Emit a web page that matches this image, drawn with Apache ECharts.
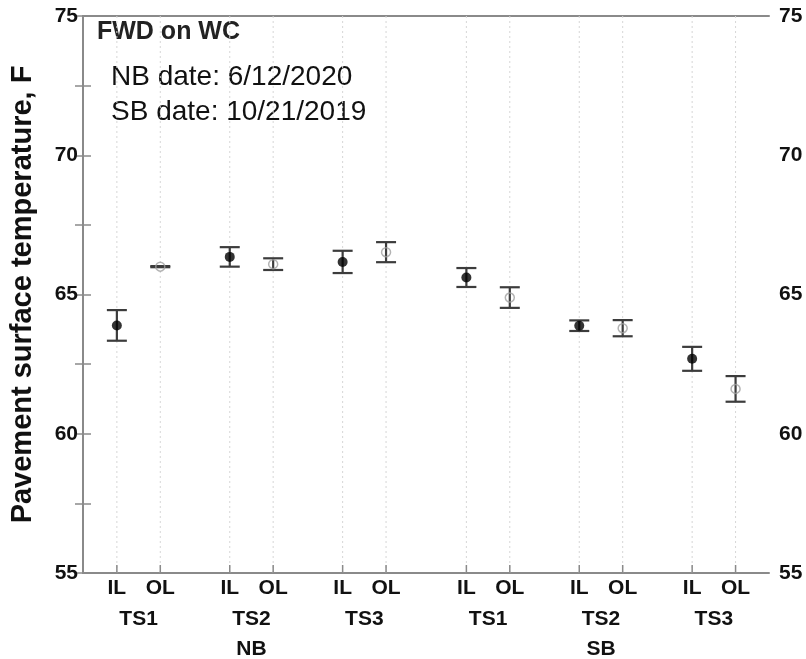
<!DOCTYPE html>
<html>
<head>
<meta charset="utf-8">
<script src="https://cdn.jsdelivr.net/npm/echarts@6/dist/echarts.min.js"></script>
<style>
  html, body { margin: 0; padding: 0; background: #fff; }
  #chart { width: 806px; height: 659px; }
</style>
</head>
<body>
<div id="chart"></div>
<script>
// Test sections along each bound, inner/outer lane per section
const sides = ['NB', 'SB'];
const sections = ['TS1', 'TS2', 'TS3', 'TS1', 'TS2', 'TS3'];
const lanes = ['IL', 'OL'];

// Mean pavement surface temperature (F) and half-range of the error bar
const ilMean = [63.89, 66.35, 66.17, 65.61, 63.88, 62.69];
const ilErr  = [0.55, 0.35, 0.40, 0.34, 0.19, 0.43];
const olMean = [66.00, 66.09, 66.52, 64.89, 63.79, 61.61];
const olErr  = [0.02, 0.21, 0.36, 0.37, 0.29, 0.46];

// Temperature axis: labelled every 5 F, ticked every 2.5 F
const yMin = 55, yMax = 75, yLabelStep = 5, yTickStep = 2.5;

const dateNotes = ['NB date: 6/12/2020', 'SB date: 10/21/2019'];
const panelTitle = 'FWD on WC';

// Horizontal layout of the section pairs on a value axis
const firstX = 0.78, groupStep = 2.6, sideGap = 0.25, xMax = 15.8;
function xOf(g, lane) {
  return firstX + g * groupStep + (g >= 3 ? sideGap : 0) + lane;
}

const laneX = [], laneText = [], sectionX = [], sideX = [];
const ilPts = [], olPts = [], ilBars = [], olBars = [];
sections.forEach(function (s, g) {
  lanes.forEach(function (l, k) { laneX.push([xOf(g, k)]); laneText.push(l); });
  sectionX.push([xOf(g, 0.5)]);
  ilPts.push([xOf(g, 0), ilMean[g]]);
  olPts.push([xOf(g, 1), olMean[g]]);
  ilBars.push([xOf(g, 0), ilMean[g], ilErr[g]]);
  olBars.push([xOf(g, 1), olMean[g], olErr[g]]);
});
sides.forEach(function (s, i) { sideX.push([xOf(i * 3 + 1, 0.5)]); });

const axisGray = '#8a8a8a';
const textFont = '"Liberation Sans", Arial, sans-serif';
const catFont = 'bold 21px ' + textFont;

function errorBarItem(params, api) {
  const x = api.value(0), m = api.value(1), e = api.value(2);
  const top = api.coord([x, m + e]);
  const bot = api.coord([x, m - e]);
  const hw = 10;
  const st = { stroke: '#3c3c3c', lineWidth: 2.2 };
  return {
    type: 'group',
    children: [
      { type: 'line', shape: { x1: top[0], y1: top[1], x2: bot[0], y2: bot[1] }, style: st },
      { type: 'line', shape: { x1: top[0] - hw, y1: top[1], x2: top[0] + hw, y2: top[1] }, style: st },
      { type: 'line', shape: { x1: bot[0] - hw, y1: bot[1], x2: bot[0] + hw, y2: bot[1] }, style: st }
    ]
  };
}

function laneItem(params, api) {
  const x = api.value(0);
  const b = api.coord([x, yMin]);
  const t = api.coord([x, yMax]);
  return {
    type: 'group',
    children: [
      { type: 'line', shape: { x1: b[0], y1: b[1], x2: t[0], y2: t[1] },
        style: { stroke: '#d6d6d6', lineWidth: 1, lineDash: [2, 3] } },
      { type: 'line', shape: { x1: b[0], y1: b[1], x2: b[0], y2: b[1] - 8 },
        style: { stroke: axisGray, lineWidth: 1.5 } },
      { type: 'text', x: b[0], y: b[1] + 15,
        style: { text: laneText[params.dataIndex], font: catFont, fill: '#111',
                 align: 'center', verticalAlign: 'middle' } }
    ]
  };
}

function labelItem(texts, offset) {
  return function (params, api) {
    const p = api.coord([api.value(0), yMin]);
    return { type: 'text', x: p[0], y: p[1] + offset,
      style: { text: texts[params.dataIndex], font: catFont, fill: '#111',
               align: 'center', verticalAlign: 'middle' } };
  };
}

const yAxisBase = {
  type: 'value', min: yMin, max: yMax, interval: yTickStep,
  axisLine: { show: true, lineStyle: { color: axisGray, width: 2 } },
  axisTick: { show: true, inside: true, length: 8, lineStyle: { color: axisGray, width: 1.5 } },
  splitLine: { show: false },
  axisLabel: {
    fontFamily: textFont, fontWeight: 'bold', fontSize: 21, color: '#111',
    formatter: function (v) { return v % yLabelStep === 0 ? String(v) : ''; }
  }
};

const chart = echarts.init(document.getElementById('chart'));
chart.setOption({
  animation: false,
  backgroundColor: '#fff',
  grid: { left: 81, right: 37, top: 16, bottom: 86 },
  xAxis: [
    { type: 'value', min: 0, max: xMax, position: 'bottom',
      axisLine: { show: true, onZero: false, lineStyle: { color: axisGray, width: 2 } },
      axisTick: { show: false }, axisLabel: { show: false }, splitLine: { show: false } },
    { type: 'value', min: 0, max: xMax, position: 'top',
      axisLine: { show: true, onZero: false, lineStyle: { color: axisGray, width: 2 } },
      axisTick: { show: false }, axisLabel: { show: false }, splitLine: { show: false } }
  ],
  yAxis: [
    Object.assign({}, yAxisBase, {
      position: 'left',
      axisLabel: Object.assign({}, yAxisBase.axisLabel, { margin: 5 }),
      name: 'Pavement surface temperature, F',
      nameLocation: 'middle', nameRotate: 90, nameGap: 46,
      nameTextStyle: { fontFamily: textFont, fontWeight: 'bold', fontSize: 29, color: '#111' }
    }),
    Object.assign({}, yAxisBase, {
      position: 'right',
      axisLabel: Object.assign({}, yAxisBase.axisLabel, { margin: 10 })
    })
  ],
  graphic: [
    { type: 'text', x: 97, y: 32,
      style: { text: panelTitle, font: 'bold 25px ' + textFont, fill: '#222', verticalAlign: 'middle' } },
    { type: 'text', x: 111, y: 77,
      style: { text: dateNotes[0], font: '28px ' + textFont, fill: '#111', verticalAlign: 'middle' } },
    { type: 'text', x: 111, y: 112,
      style: { text: dateNotes[1], font: '28px ' + textFont, fill: '#111', verticalAlign: 'middle' } }
  ],
  series: [
    { type: 'custom', name: 'lanes', data: laneX, renderItem: laneItem, clip: false, silent: true, z: 1 },
    { type: 'custom', name: 'sections', data: sectionX, renderItem: labelItem(sections, 46), clip: false, silent: true },
    { type: 'custom', name: 'sides', data: sideX, renderItem: labelItem(sides, 76), clip: false, silent: true },
    { type: 'custom', name: 'IL range', data: ilBars, renderItem: errorBarItem, z: 3 },
    { type: 'custom', name: 'OL range', data: olBars, renderItem: errorBarItem, z: 3 },
    { type: 'scatter', name: 'IL', data: ilPts, symbol: 'circle', symbolSize: 10,
      itemStyle: { color: '#000' }, z: 5 },
    { type: 'scatter', name: 'OL', data: olPts, symbol: 'circle', symbolSize: 9,
      itemStyle: { color: 'rgba(255,255,255,0)', borderColor: '#a0a0a0', borderWidth: 1.5 }, z: 5 }
  ]
});
</script>
</body>
</html>
